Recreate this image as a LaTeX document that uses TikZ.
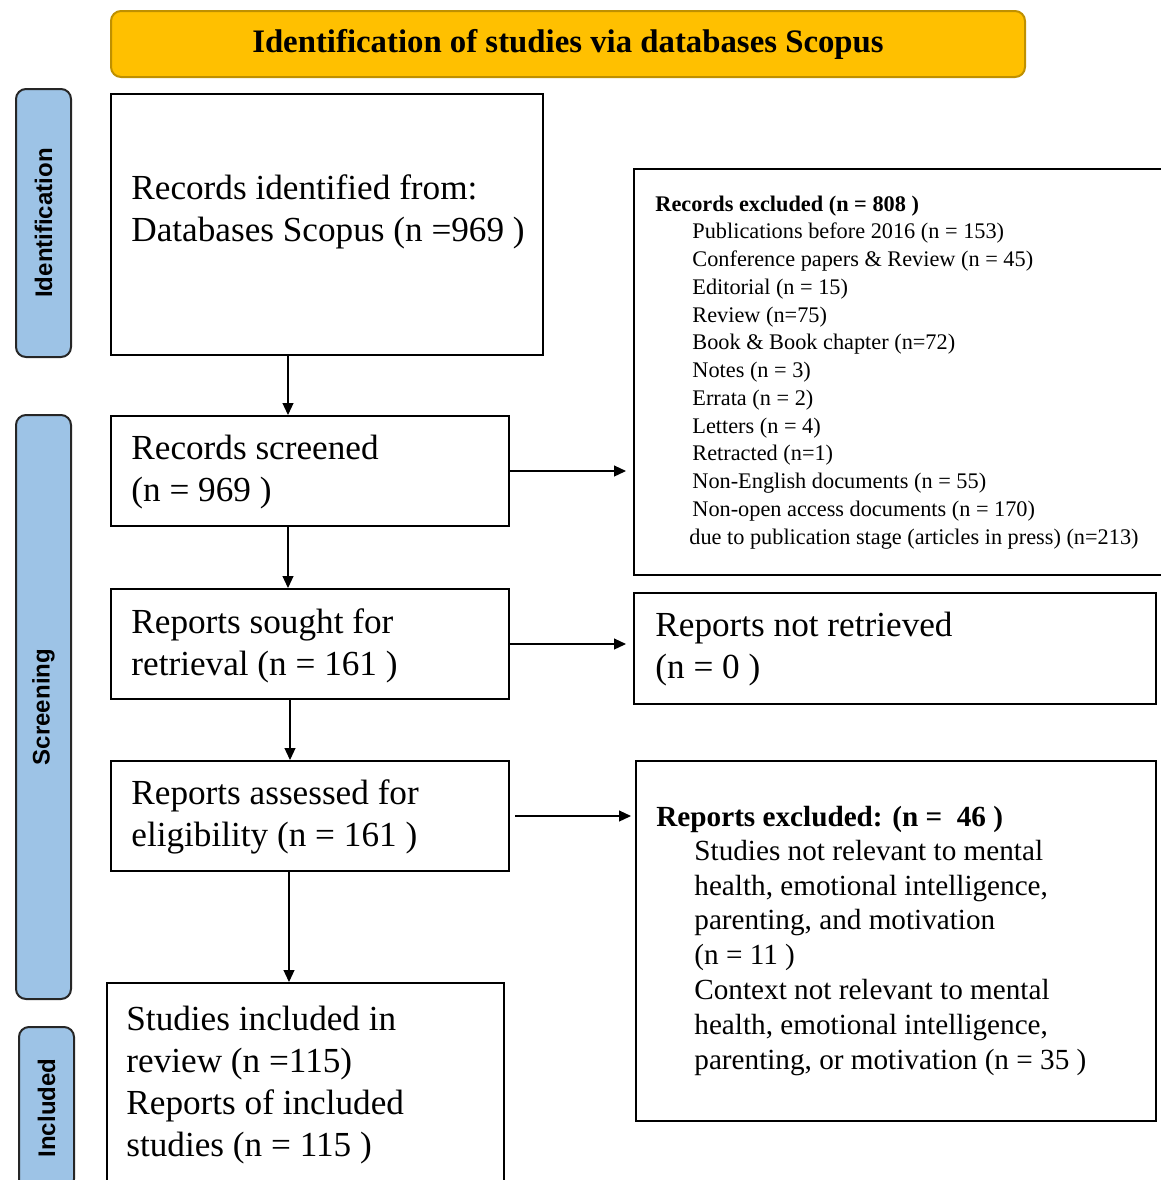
\documentclass[tikz,border=0pt]{standalone}
\usepackage{fontspec}
\setmainfont{Liberation Serif}
\setsansfont{Liberation Sans}
\usetikzlibrary{arrows.meta,positioning}

\definecolor{titlefill}{HTML}{FFC000}
\definecolor{titleline}{HTML}{BF9000}
\definecolor{phasefill}{HTML}{9DC3E6}

\tikzset{
  box/.style={draw, line width=1pt, anchor=north west, inner sep=0pt},
  titlebox/.style={draw=titleline, fill=titlefill, line width=1pt, rounded corners=5pt,
    anchor=north west, inner sep=0pt, font=\bfseries\fontsize{16.4}{19}\selectfont},
  phase/.style={draw=black!85, fill=phasefill, line width=1pt, rounded corners=5pt,
    anchor=north west, inner sep=0pt, minimum width=27.5pt},
  phaselabel/.style={rotate=90, inner sep=0pt, font=\sffamily\bfseries\fontsize{12}{14}\selectfont},
  % multi-line texts are placed by the baseline of their last line
  bigtxt/.style={anchor=base west, inner sep=0pt, align=left, font=\fontsize{17.6}{21}\selectfont},
  smalltxt/.style={anchor=base west, inner sep=0pt, align=left, font=\fontsize{11.15}{13.875}\selectfont},
  midtxt/.style={anchor=base west, inner sep=0pt, align=left, font=\fontsize{14.6}{17.4}\selectfont},
  arr/.style={-{Triangle[length=6pt,width=5.5pt]}, line width=0.6pt}
}

\begin{document}
\begin{tikzpicture}[x=0.5pt, y=-0.5pt]
    \useasboundingbox (0,0) rectangle (1161,1180);

    % Title bar
    \node[titlebox, minimum width=457pt, minimum height=33pt] (title) at (110,10)
        {Identification of studies via databases Scopus};

    % Phase bars on the left
    \node[phase, minimum height=134pt] (ident) at (15,88) {};
    \node[phaselabel] (identlab) at (ident.center) {Identification};
    \node[phase, minimum height=292pt] (screen) at (15,414) {};
    \node[phaselabel] (screenlab) at (screen.center) {Screening};
    \node[phase, minimum height=81pt] (incl) at (18,1026) {};
    \node[phaselabel] (incllab) at (incl.center) {Included};

    % Main column
    \node[box, minimum width=216pt, minimum height=130.5pt] (b1) at (110,93) {};
    \node[bigtxt] (t1) at (131,241) {Records identified from:\\Databases Scopus (n =969 )};
    \node[box, minimum width=199pt, minimum height=55pt] (b2) at (110,415) {};
    \node[bigtxt] (t2) at (131,501) {Records screened\\(n = 969 )};
    \node[box, minimum width=199pt, minimum height=55pt] (b3) at (110,588) {};
    \node[bigtxt] (t3) at (131,675) {Reports sought for\\retrieval (n = 161 )};
    \node[box, minimum width=199pt, minimum height=55pt] (b4) at (110,760) {};
    \node[bigtxt] (t4) at (131,846) {Reports assessed for\\eligibility (n = 161 )};
    \node[box, minimum width=198.5pt, minimum height=120pt] (b5) at (106,982) {};
    \node[bigtxt] (t5) at (126,1156) {Studies included in\\review (n =115)\\Reports of included\\studies (n = 115 )};

    % Exclusion column
    \node[box, minimum width=270pt, minimum height=203pt] (ex1) at (633,168) {};
    \node[smalltxt] (ex1head) at (655,211) {\textbf{Records excluded (n = 808 )}};
    \node[smalltxt] (ex1list) at (692,544) {Publications before 2016 (n = 153)\\
        Conference papers \& Review (n = 45)\\
        Editorial (n = 15)\\
        Review (n=75)\\
        Book \& Book chapter (n=72)\\
        Notes (n = 3)\\
        Errata (n = 2)\\
        Letters (n = 4)\\
        Retracted (n=1)\\
        Non-English documents (n = 55)\\
        Non-open access documents (n = 170)\\
        \hspace*{-1.5pt}due to publication stage (articles in press) (n=213)};
    \node[box, minimum width=261pt, minimum height=55.5pt] (ex2) at (633,592) {};
    \node[bigtxt] (t6) at (655,678) {Reports not retrieved\\(n = 0 )};
    \node[box, minimum width=260pt, minimum height=180pt] (ex3) at (635,760) {};
    \node[midtxt] (ex3head) at (656,826) {\textbf{Reports excluded: (n = ~46 )}};
    \node[midtxt] (ex3list) at (694,1069) {Studies not relevant to mental\\
        health, emotional intelligence,\\
        parenting, and motivation\\
        (n = 11 )\\
        Context not relevant to mental\\
        health, emotional intelligence,\\
        parenting, or motivation (n = 35 )};

    % Arrows down
    \draw[arr] ([xshift=-19.5pt]b1.south) -- ([xshift=-11pt]b2.north);
    \draw[arr] ([xshift=-11pt]b2.south) -- ([xshift=-11pt]b3.north);
    \draw[arr] ([xshift=-10pt]b3.south) -- ([xshift=-10pt]b4.north);
    \draw[arr] ([xshift=-10.5pt]b4.south) -- ([xshift=-8.25pt]b5.north);

    % Arrows right
    \draw[arr, shorten >=3.5pt] (b2.east) -- (b2.east -| ex1.west);
    \draw[arr, shorten >=3.5pt] (b3.east) -- (b3.east -| ex2.west);
    \draw[arr, shorten <=2.5pt, shorten >=2pt] (b4.east) -- (b4.east -| ex3.west);
\end{tikzpicture}
\end{document}
